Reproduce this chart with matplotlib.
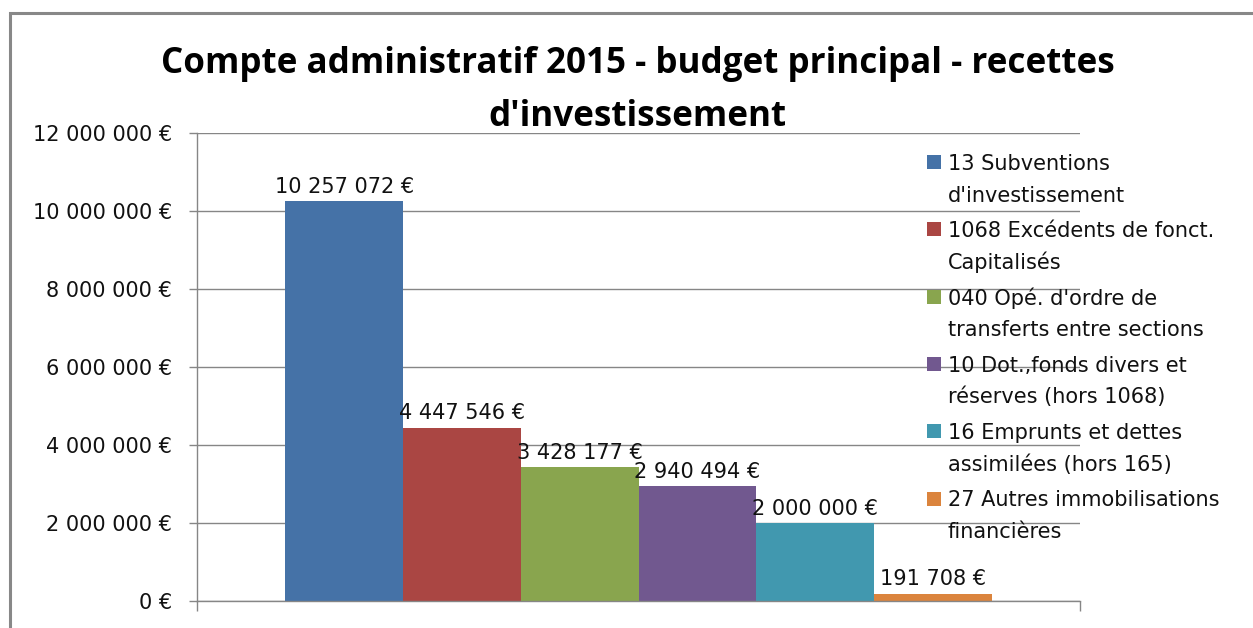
import matplotlib
matplotlib.use("Agg")
from matplotlib import pyplot as plt
from matplotlib.patches import Rectangle

# data
labels = ["13 Subventions\nd'investissement",
          "1068 Excédents de fonct.\nCapitalisés",
          "040 Opé. d'ordre de\ntransferts entre sections",
          "10 Dot.,fonds divers et\nréserves (hors 1068)",
          "16 Emprunts et dettes\nassimilées (hors 165)",
          "27 Autres immobilisations\nfinancières"]
values = [10257072, 4447546, 3428177, 2940494, 2000000, 191708]
colors = ["#4572A7", "#AA4643", "#89A54E", "#71588F", "#4198AF", "#DB843D"]
yticks = [0, 2000000, 4000000, 6000000, 8000000, 10000000, 12000000]

plt.rcParams['font.family'] = ['DejaVu Sans']

W, H = 1253, 628
fig = plt.figure(figsize=(W / 100, H / 100), dpi=100)

def euro(v):
    return "{:,}".format(v).replace(",", " ") + " €"

# plot area in pixel coords of the reference
ax = fig.add_axes([197 / W, 1 - 601 / H, (1080 - 197) / W, (601 - 133) / H])

x = list(range(len(values)))
ax.bar(x, values, width=1.0, color=colors, zorder=2)
for xi, v in zip(x, values):
    ax.annotate(euro(v), xy=(xi, v), xytext=(0, 6), textcoords="offset points",
                ha="center", va="baseline", fontsize=15, color="#111111")

ax.set_xlim(-1.25, 6.25)
ax.set_ylim(0, 12000000)
ax.set_yticks(yticks)
ax.set_yticklabels([euro(t) for t in yticks])
ax.set_xticks([-1.25, 6.25])
ax.set_xticklabels(["", ""])
ax.tick_params(axis="y", length=5.8, width=1, color="#868686", pad=12,
               labelsize=15, labelcolor="#111111")
ax.tick_params(axis="x", length=7, width=1, color="#868686")
ax.yaxis.grid(True, color="#868686", linewidth=1, zorder=0)
ax.set_axisbelow(True)
for s in ["top", "right"]:
    ax.spines[s].set_visible(False)
for s in ["left", "bottom"]:
    ax.spines[s].set_color("#868686")
    ax.spines[s].set_linewidth(1)

# title
fig.text(637.5 / W, 1 - 73 / H, "Compte administratif 2015 - budget principal - recettes",
         ha="center", va="baseline", fontsize=25.2, fontweight="bold",
         family="Open Sans", color="#000000")
fig.text(637.5 / W, 1 - 126 / H, "d'investissement",
         ha="center", va="baseline", fontsize=25.2, fontweight="bold",
         family="Open Sans", color="#000000")

# legend, drawn line by line so the marker sits on the first line
for i, (lab, col) in enumerate(zip(labels, colors)):
    base = 170 + 67.3 * i
    fig.patches.append(Rectangle((927 / W, 1 - (base - 1) / H), 14 / W, 14 / H,
                                 transform=fig.transFigure, facecolor=col,
                                 edgecolor="none"))
    for j, line in enumerate(lab.split("\n")):
        fig.text(948 / W, 1 - (base + 31.5 * j) / H, line, ha="left", va="baseline",
                 fontsize=15, color="#111111")

# outer border of the chart object
fig.patches.append(Rectangle((10 / W, -0.1), 1.2, 1.1 - 13 / H, transform=fig.transFigure,
                             facecolor="none", edgecolor="#888888", linewidth=2.2,
                             clip_on=False))

plt.savefig("out.png", dpi=100)
